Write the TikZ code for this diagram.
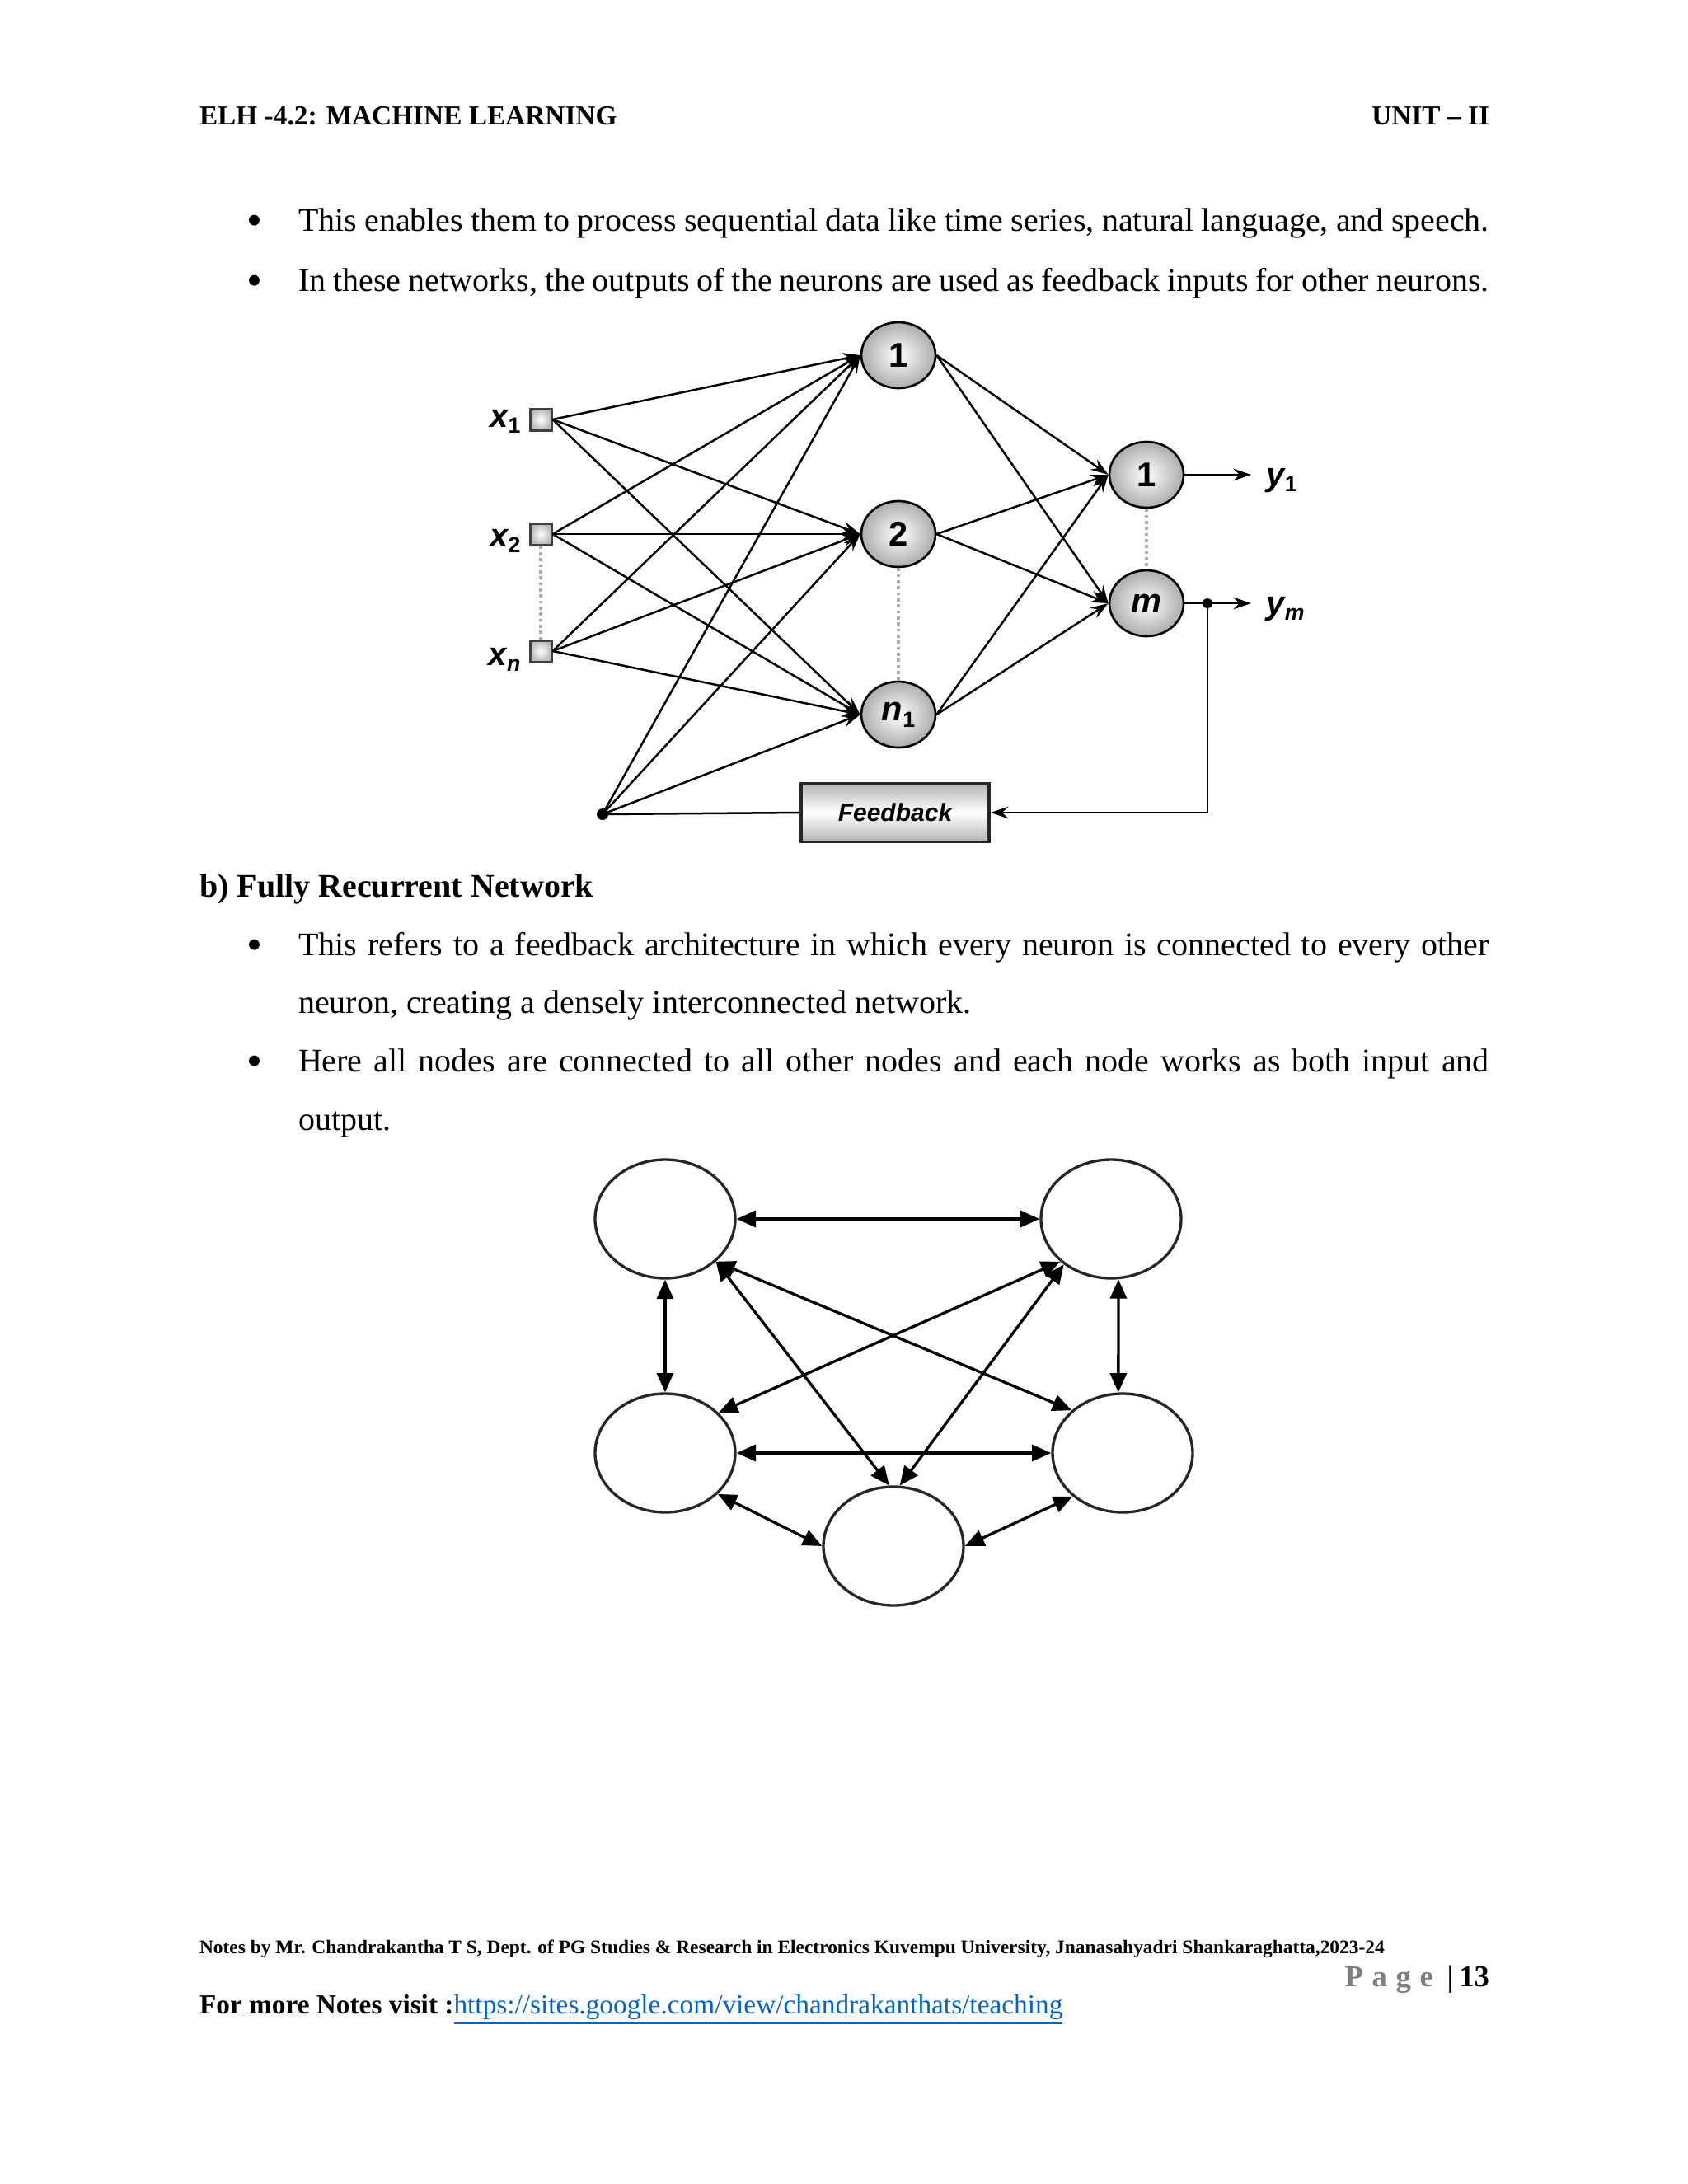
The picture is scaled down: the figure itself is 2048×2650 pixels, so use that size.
\documentclass[tikz,border=0pt]{standalone}
\usepackage{fontspec}
\setmainfont{Liberation Serif}
\newfontfamily\arialf{Liberation Sans}
\usetikzlibrary{arrows.meta,shapes.geometric,calc}
\definecolor{linkblue}{RGB}{5,99,193}
\definecolor{pagegray}{RGB}{127,127,127}
\def\pxu{0.010542cm}
\newlength\txtw
\setlength\txtw{15.233cm}
\newcommand\bigbul{\raisebox{-0.3ex}{\scalebox{1.35}{\textbullet}}}
\begin{document}
\begin{tikzpicture}[x=0.010542cm,y=-0.010542cm,
  txt/.style={inner sep=0pt, outer sep=0pt, anchor=base west, font=\fontsize{12}{14}\selectfont},
  hdr/.style={inner sep=0pt, outer sep=0pt, anchor=base west, font=\bfseries\fontsize{10}{12}\selectfont},
  bul/.style={inner sep=0pt, outer sep=0pt, anchor=base, font=\fontsize{12}{14}\selectfont},
  neuron/.style={ellipse, draw=black, line width=0.8pt, minimum width={90*\pxu}, minimum height={80*\pxu},
    inner sep=0pt, inner color=white, outer color=gray!65, font=\arialf\bfseries\fontsize{12.5}{14}\selectfont},
  inbox/.style={rectangle, draw=black!75, line width=0.9pt, minimum size={26*\pxu}, inner sep=0pt,
    inner color=white, outer color=gray!55},
  xlab/.style={inner sep=0pt, anchor=base east, font=\arialf\bfseries\itshape\fontsize{12}{14}\selectfont},
  ylab/.style={inner sep=0pt, anchor=base west, font=\arialf\bfseries\itshape\fontsize{12}{14}\selectfont},
  plain/.style={line width=0.75pt},
  conn/.style={line width=0.75pt, -{Stealth[length=6.5pt,width=4.4pt,inset=2.3pt]}},
  dotl/.style={draw=gray!65, line width=1.4pt, dash pattern=on 1.1pt off 1.1pt},
  jdot/.style={circle, fill=black, inner sep=0pt, minimum size={14*\pxu}},
  fbox/.style={rectangle, draw=black!85, line width=1.1pt, minimum width={228*\pxu}, minimum height={71*\pxu},
    top color=gray!60, bottom color=gray!60, middle color=white, inner sep=0pt,
    font=\arialf\bfseries\itshape\fontsize{9}{10}\selectfont},
  rn/.style={ellipse, draw=black!85, line width=1pt, minimum width={170*\pxu}, minimum height={144*\pxu}, inner sep=0pt},
  dbl/.style={line width=1pt, {Triangle[length=7pt,width=6pt]}-{Triangle[length=7pt,width=6pt]}}
]
\useasboundingbox[fill=white] (0,0) rectangle (2048,2650);

% ---------- header ----------
\node[hdr] (hL) at (242,151) {ELH -4.2: MACHINE LEARNING};
\node[hdr, anchor=base east] (hR) at (1807,151) {UNIT – II};

% ---------- first bullets ----------
\node[bul] (b1) at (309,280) {\bigbul};
\node[txt] (t1) at (362,280) {\makebox[\txtw][s]{This enables them to process sequential data like time series, natural language, and speech.}};
\node[bul] (b2) at (309,353) {\bigbul};
\node[txt] (t2) at (362,353) {\makebox[\txtw][s]{In these networks, the outputs of the neurons are used as feedback inputs for other neurons.}};

% ---------- recurrent network figure ----------
\node[inbox] (x1) at (656,509) {};
\node[inbox] (x2) at (656,648) {};
\node[inbox] (xn) at (656,790) {};
\node[xlab] (lx1) at (632,518) {x\raisebox{-0.35ex}{\fontsize{8}{9}\selectfont\upshape 1}};
\node[xlab] (lx2) at (632,663) {x\raisebox{-0.35ex}{\fontsize{8}{9}\selectfont\upshape 2}};
\node[xlab] (lxn) at (632,807) {x\raisebox{-0.35ex}{\fontsize{8}{9}\selectfont n}};

\node[neuron] (h1) at (1090,431) {1};
\node[neuron] (h2) at (1090,648) {2};
\node[neuron] (hn) at (1090,867) {\itshape n\raisebox{-0.35ex}{\fontsize{8}{9}\selectfont\upshape 1}};
\node[neuron] (o1) at (1391,576) {1};
\node[neuron] (om) at (1391,732) {\itshape m};

\node[jdot] (J) at (731,988) {};
\node[jdot, minimum size={12*\pxu}] (K) at (1465,732) {};
\node[fbox] (FB) at (1086,986) {Feedback};
\coordinate (C) at (1465,986);
\coordinate (Y1e) at (1518,576);
\coordinate (Yme) at (1518,732);
\node[ylab] (ly1) at (1536,589) {y\raisebox{-0.35ex}{\fontsize{8}{9}\selectfont\upshape 1}};
\node[ylab] (lym) at (1536,745) {y\raisebox{-0.35ex}{\fontsize{8}{9}\selectfont m}};

\draw[dotl] (x2.south) -- (xn.north);
\draw[dotl] (h2.south) -- (hn.north);
\draw[dotl] (o1.south) -- (om.north);

\foreach \s in {x1,x2,xn}{\foreach \t in {h1,h2,hn}{\draw[conn] (\s.east) -- (\t.west);}}
\foreach \t in {h1,h2,hn}{\draw[conn] (J.center) -- (\t.west);}
\foreach \s in {h1,h2,hn}{\foreach \t in {o1,om}{\draw[conn] (\s.east) -- (\t.west);}}
\draw[conn] (o1.east) -- (Y1e);
\draw[plain] (om.east) -- (K.center);
\draw[conn] (K.center) -- (Yme);
\draw[conn] (K.center) -- (C) -- (FB.east);
\draw[plain] (J.center) -- (FB.west);

% ---------- section b ----------
\node[hdr, font=\bfseries\fontsize{12}{14}\selectfont] (hb) at (242,1088) {b) Fully Recurrent Network};
\node[bul] (b3) at (309,1159) {\bigbul};
\node[txt] (t3a) at (362,1159) {\makebox[\txtw][s]{This refers to a feedback architecture in which every neuron is connected to every other}};
\node[txt] (t3b) at (362,1229) {neuron, creating a densely interconnected network.};
\node[bul] (b4) at (309,1300) {\bigbul};
\node[txt] (t4a) at (362,1300) {\makebox[\txtw][s]{Here all nodes are connected to all other nodes and each node works as both input and}};
\node[txt] (t4b) at (362,1371) {output.};

% ---------- fully recurrent figure ----------
\node[rn] (TL) at (807,1479) {};
\node[rn] (TR) at (1348,1479) {};
\node[rn] (ML) at (807,1763) {};
\node[rn] (MR) at (1362,1763) {};
\node[rn] (B) at (1084,1876) {};

\draw[dbl] (TL.east) -- (TR.west);
\draw[dbl] (TL.south) -- (ML.north);
\draw[dbl] (TR.-83) -- (MR.94);
\draw[dbl] (ML.east) -- (MR.west);
\draw[dbl] (TL.-40) -- (MR.140);
\draw[dbl] (TR.220) -- (ML.37);
\draw[dbl] (TL.-40) -- (B.94);
\draw[dbl] (TR.224) -- (B.84);
\draw[dbl] (ML.-38) -- (B.180);
\draw[dbl] (MR.221) -- (B.0);

% ---------- footer ----------
\node[hdr, font=\bfseries\fontsize{7}{8}\selectfont] (fn) at (242,2370) {\resizebox{15.16cm}{!}{Notes by Mr. Chandrakantha T S, Dept. of PG Studies \& Research in Electronics Kuvempu University, Jnanasahyadri Shankaraghatta,2023-24}};
\node[hdr, anchor=base east, font=\fontsize{11}{13}\selectfont] (pg) at (1807,2410) {{\bfseries\color{pagegray}P\hspace{3.2pt}a\hspace{3.2pt}g\hspace{3.2pt}e}\hspace{5pt}\textbf{|\hspace{2pt}13}};
\node[hdr] (fm) at (242,2443) {For more Notes visit :};
\node[txt, font=\fontsize{10}{12}\selectfont] (lk) at (fm.base east) {\color{linkblue}\underline{https://sites.google.com/view/chandrakanthats/teaching}};
\end{tikzpicture}
\end{document}
